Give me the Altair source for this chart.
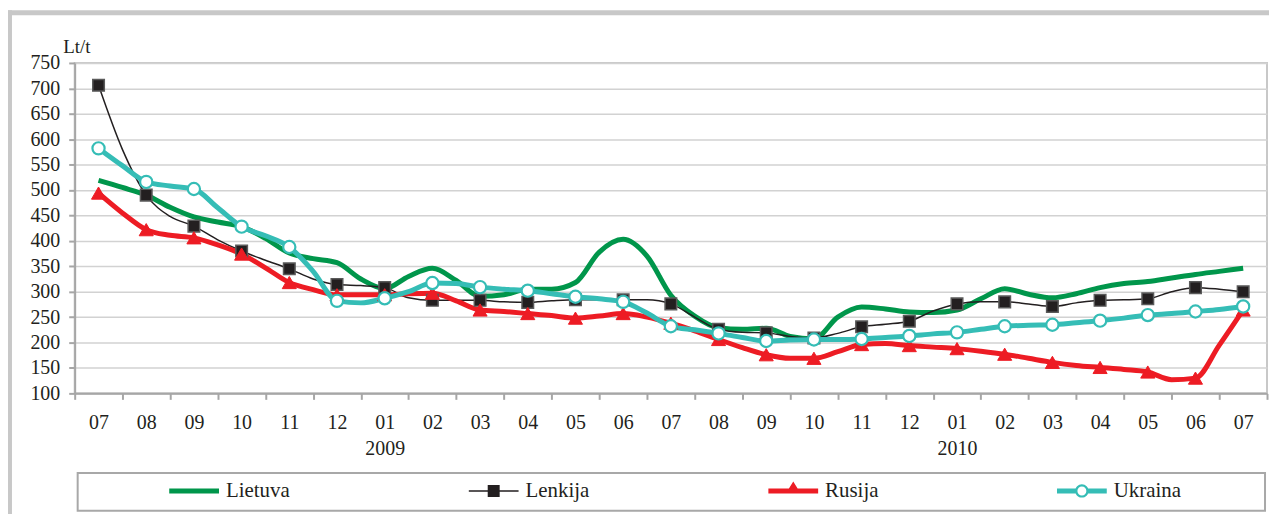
import altair as alt
import pandas as pd

# ---------------- data ----------------
series = ["Lietuva", "Lenkija", "Rusija", "Ukraina"]
colors = ["#00964B", "#231F20", "#ED1C24", "#35BDB6"]

month_labels = ["07", "08", "09", "10", "11", "12", "01", "02", "03", "04", "05", "06",
                "07", "08", "09", "10", "11", "12", "01", "02", "03", "04", "05", "06", "07"]
year_labels = ["", "", "", "", "", "", "2009", "", "", "", "", "",
               "", "", "", "", "", "", "2010", "", "", "", "", "", ""]
y_ticks = [100, 150, 200, 250, 300, 350, 400, 450, 500, 550, 600, 650, 700, 750]

# half-month steps (month index 0..24)
t_values = [i / 2 for i in range(49)]

lietuva = [519, 505, 490, 466, 447, 437, 428, 405, 376, 365, 357, 325, 306, 330, 346, 322,
           291, 294, 305, 305, 318, 378, 403, 370, 293, 252, 229, 226, 228, 212, 207, 250,
           270, 266, 260, 259, 264, 286, 306, 295, 288, 296, 308, 316, 320, 327, 334, 340, 346]
lenkija = [706, 580, 490, 448, 429, 402, 380, 362, 345, 325, 314, 312, 308, 288, 283, 283,
           283, 280, 279, 282, 284, 284, 284, 284, 276, 250, 226, 220, 219, 212, 209, 218,
           231, 236, 242, 262, 276, 280, 280, 276, 271, 278, 283, 284, 286, 300, 308, 305, 300]
rusija = [494, 455, 422, 411, 406, 392, 374, 347, 318, 304, 294, 294, 294, 296, 297, 282,
          264, 261, 257, 253, 248, 252, 257, 250, 238, 223, 206, 190, 176, 169, 169, 182,
          196, 198, 194, 191, 188, 183, 177, 169, 161, 155, 151, 147, 142, 127, 130, 195, 264]
ukraina = [582, 548, 516, 508, 502, 465, 428, 410, 388, 340, 282, 278, 287, 300, 317, 316,
           309, 305, 302, 296, 290, 286, 280, 258, 232, 225, 218, 210, 203, 205, 206, 206,
           207, 210, 213, 217, 220, 226, 232, 234, 235, 239, 243, 248, 254, 257, 261, 265, 271]

values_by_series = {"Lietuva": lietuva, "Lenkija": lenkija, "Rusija": rusija, "Ukraina": ukraina}

rows = []
for s in series:
    for t, v in zip(t_values, values_by_series[s]):
        rows.append({"series": s, "t": t, "value": v})
df = pd.DataFrame(rows)

# ---------------- styling ----------------
FONT = "Liberation Serif"
GRAY_AX = "#A6A6A6"
TXT = "#231F20"

marker_series = ["Lenkija", "Rusija", "Ukraina"]

# legend symbols (line + marker) as custom paths in [-1, 1] units
legend_paths = [
    "M-1,-0.1H1V0.1H-1Z",
    "M-1,-0.03H1V0.03H-1Z M-0.24,-0.24H0.24V0.24H-0.24Z",
    "M-1,-0.1H1V0.1H-1Z M0,-0.38L0.3,0.1L-0.3,0.1Z",
    "M-1,-0.1H-0.24V0.1H-1Z M0.24,-0.1H1V0.1H0.24Z "
    "M0.27,0A0.27,0.27,0,1,1,-0.27,0A0.27,0.27,0,1,1,0.27,0Z "
    "M0.18,0A0.18,0.18,0,1,0,-0.18,0A0.18,0.18,0,1,0,0.18,0Z",
]

# x axis: ticks at month boundaries, labels at month centres
x_axis_values = sorted(set([i - 0.5 for i in range(26)] + list(range(25))))
M = "[" + ",".join("'%s'" % m for m in month_labels) + "]"
Y = "[" + ",".join("'%s'" % y for y in year_labels) + "]"
label_expr = ("(datum.value % 1 != 0) ? '' : (" + Y + "[datum.value] != '' ? [" + M +
              "[datum.value], " + Y + "[datum.value]] : " + M + "[datum.value])")

X = alt.X(
    "t:Q",
    scale=alt.Scale(domain=[-0.5, 24.5], nice=False, zero=False),
    axis=alt.Axis(
        values=x_axis_values, labelExpr=label_expr, title=None, grid=False,
        tickOpacity={"condition": {"test": "datum.value % 1 != 0", "value": 1}, "value": 0},
        tickSize=6, tickColor=GRAY_AX, tickWidth=2, domainColor=GRAY_AX, domainWidth=2,
        labelFont=FONT, labelFontSize=20, labelColor=TXT, labelPadding=13,
        labelLineHeight=26, labelOverlap=False, labelAngle=0, labelFlush=False,
    ),
)
Yenc = alt.Y(
    "value:Q",
    scale=alt.Scale(domain=[100, 750], nice=False, zero=False),
    axis=alt.Axis(
        values=y_ticks, title="Lt/t", titleAngle=0, titleX=-12, titleY=-10,
        titleAlign="left", titleBaseline="alphabetic", titleFont=FONT, titleFontSize=19,
        titleFontWeight="normal", titleColor=TXT,
        labelFont=FONT, labelFontSize=20, labelColor=TXT, labelPadding=9,
        tickSize=6, tickColor=GRAY_AX, tickWidth=2, domainColor=GRAY_AX, domainWidth=2,
        gridColor="#D2D2D2", gridWidth=1.5,
    ),
)

one = alt.Data(values=[{"k": 1}])

frame_left = alt.Chart(one).mark_rect(color="#C8C8C8").encode(
    x=alt.value(-67), x2=alt.value(-63), y=alt.value(-53), y2=alt.value(460))
frame_top = alt.Chart(one).mark_rect(color="#C8C8C8").encode(
    x=alt.value(-67), x2=alt.value(1200), y=alt.value(-53), y2=alt.value(-48))
legend_box = alt.Chart(one).mark_rect(fill="white", stroke="#A8A8A8", strokeWidth=2).encode(
    x=alt.value(3), x2=alt.value(1196), y=alt.value(412), y2=alt.value(450))

lines = alt.Chart(df).mark_line(interpolate="monotone").encode(
    x=X, y=Yenc,
    color=alt.Color("series:N", scale=alt.Scale(domain=series, range=colors), legend=None),
    strokeWidth=alt.StrokeWidth("series:N",
                                scale=alt.Scale(type="ordinal", domain=series, range=[5, 1.5, 5, 5]),
                                legend=None),
    order=alt.Order("t:Q"),
)

points = alt.Chart(df).transform_filter(
    "datum.t % 1 == 0 && datum.series != 'Lietuva'"
).mark_point(filled=True, opacity=1).encode(
    x=X, y=Yenc,
    shape=alt.Shape("series:N", scale=alt.Scale(domain=marker_series,
                                                range=["square", "triangle-up", "circle"]),
                    legend=None),
    fill=alt.Fill("series:N", scale=alt.Scale(domain=marker_series,
                                              range=["#231F20", "#ED1C24", "#FFFFFF"]),
                  legend=None),
    stroke=alt.Stroke("series:N", scale=alt.Scale(domain=marker_series,
                                                  range=["#5A5A5A", "#ED1C24", "#35BDB6"]),
                      legend=None),
    size=alt.Size("series:N", scale=alt.Scale(type="ordinal", domain=marker_series,
                                              range=[135, 200, 150]),
                  legend=None),
    strokeWidth=alt.StrokeWidth("series:N", scale=alt.Scale(type="ordinal", domain=marker_series,
                                                            range=[1.5, 1, 2.2]),
                                legend=None),
)

leg = dict(orient="none", legendX=95, legendY=405, direction="horizontal", columns=4,
           title=None, symbolSize=2500, symbolStrokeWidth=0, symbolOpacity=1,
           labelFont=FONT, labelFontSize=21, labelColor=TXT, labelOffset=7,
           columnPadding=179, padding=0, gridAlign="each")

legend_layer = alt.Chart(df).transform_filter("false").mark_point(
    filled=True, opacity=1, strokeWidth=0
).encode(
    x=X, y=Yenc,
    fill=alt.Fill("series:N", scale=alt.Scale(domain=series, range=colors),
                  legend=alt.Legend(**leg)),
    shape=alt.Shape("series:N", scale=alt.Scale(domain=series, range=legend_paths),
                    legend=alt.Legend(**leg)),
)

chart = alt.layer(frame_left, frame_top, legend_box, lines, points, legend_layer).resolve_scale(
    fill="independent", shape="independent", stroke="independent",
    size="independent", strokeWidth="independent",
).properties(
    width=1198, height=332,
    autosize=alt.AutoSizeParams(type="none"),
    padding={"left": 67, "top": 54, "right": 2, "bottom": 120},
    background="white",
).configure_view(stroke="#C8C8C8", strokeWidth=2)

chart.save("out.html", embed_options={"renderer": "svg", "actions": False})
